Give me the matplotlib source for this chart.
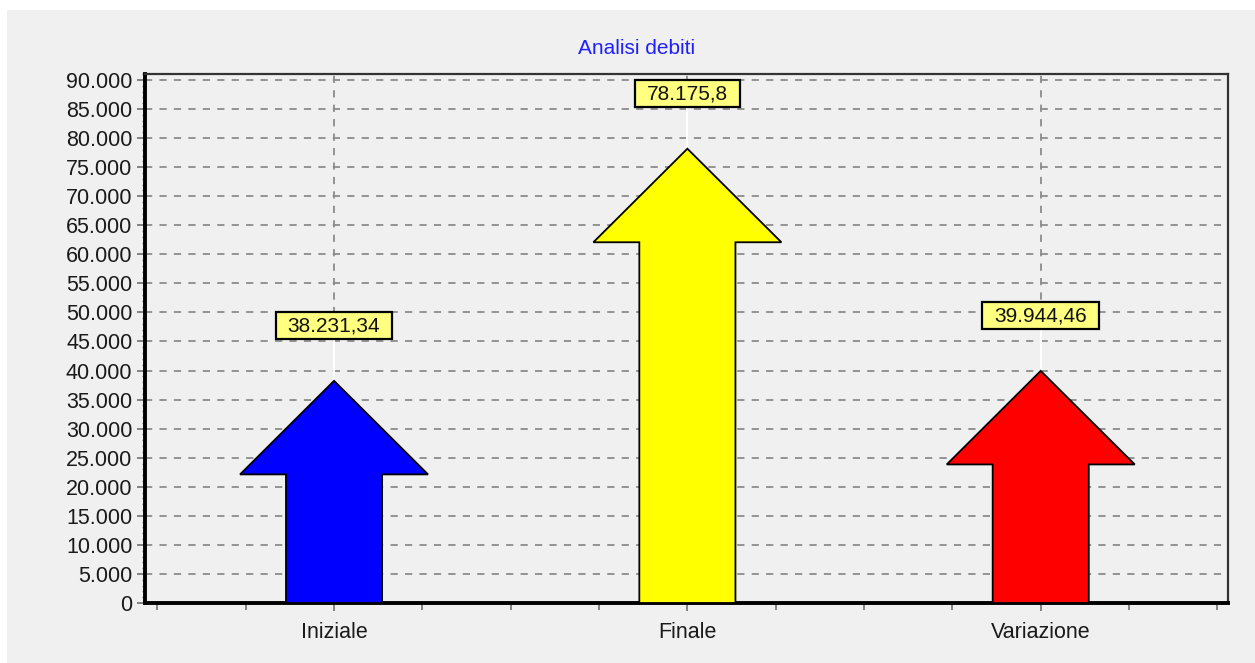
import matplotlib
matplotlib.use('Agg')
import matplotlib.pyplot as plt
import matplotlib.patches as mp
import matplotlib.ticker as mt

categories = ['Iniziale', 'Finale', 'Variazione']
values = [38231.34, 78175.8, 39944.46]
value_labels = ['38.231,34', '78.175,8', '39.944,46']
colors = ['#0000ff', '#ffff00', '#ff0000']
title = 'Analisi debiti'

plt.rcParams['font.family'] = ['Liberation Sans', 'DejaVu Sans']


def dot_thousands(v, pos=None):
    return '{:,.0f}'.format(v).replace(',', '.')


def main():
    W, H = 1255, 663
    fig = plt.figure(figsize=(W / 100, H / 100), dpi=100, facecolor='white')
    # gray panel with white border at top/left
    fig.patches.append(mp.Rectangle((7 / W, 0), 1, 1 - 10 / H, transform=fig.transFigure,
                                    facecolor='#f0f0f0', edgecolor='none', zorder=-10))
    ax = fig.add_axes([145 / W, (H - 603) / H, (1228 - 145) / W, (603 - 74) / H])
    ax.set_facecolor('#f0f0f0')
    ax.set_xlim(-0.535, 2.53)
    ax.set_ylim(0, 91030)

    shaft = 0.136
    head = 0.266
    head_len = 16100
    labels = []
    for i, (v, c) in enumerate(zip(values, colors)):
        b = v - head_len
        pts = [(i - shaft, 0), (i - shaft, b), (i - head, b), (i, v),
               (i + head, b), (i + shaft, b), (i + shaft, 0)]
        ax.add_patch(mp.Polygon(pts, closed=True, facecolor=c, edgecolor='black',
                                linewidth=1.3, zorder=3))
        ly = v + 9450
        ax.plot([i, i], [v, ly], color='white', linewidth=1.5, zorder=2)
        t = ax.text(i, ly, value_labels[i], ha='center', va='center', fontsize=15,
                    color='#111111', zorder=5)
        labels.append((i, ly, t))

    # label boxes: text width plus padding, in pixels
    fig.canvas.draw()
    rend = fig.canvas.get_renderer()
    for i, ly, t in labels:
        w = t.get_window_extent(rend).width + 24
        cx, cy = ax.transData.transform((i, ly))
        ax.add_patch(mp.Rectangle((cx - w / 2, cy - 13.5), w, 27, transform=None,
                                  facecolor='#ffff80', edgecolor='black',
                                  linewidth=1.6, zorder=4))

    ax.set_xticks(range(len(categories)))
    ax.set_xticklabels(categories)
    ax.xaxis.set_minor_locator(mt.MultipleLocator(0.25))
    ax.yaxis.set_major_locator(mt.MultipleLocator(5000))
    ax.yaxis.set_minor_locator(mt.MultipleLocator(1000))
    ax.yaxis.set_major_formatter(mt.FuncFormatter(dot_thousands))
    ax.grid(which='major', color='#8c8c8c', linestyle=(0, (4, 4)), linewidth=1.3, zorder=1)
    ax.set_axisbelow(True)
    ax.tick_params(axis='both', which='major', labelsize=15.5, labelcolor='#1a1a1a',
                   color='#707070', length=6, width=1.2)
    ax.tick_params(axis='y', which='minor', color='#808080', length=2, width=1)
    ax.tick_params(axis='x', which='minor', color='#707070', length=5, width=1.2)
    ax.tick_params(axis='x', which='major', pad=8)
    ax.tick_params(axis='y', which='major', pad=3)
    for s in ['left', 'bottom']:
        ax.spines[s].set_linewidth(2.8)
        ax.spines[s].set_color('black')
    for s in ['top', 'right']:
        ax.spines[s].set_linewidth(1.6)
        ax.spines[s].set_color('#333333')

    fig.text(637 / W, 1 - 48 / H, title, ha='center', va='center', fontsize=15,
             color='#2020ff')
    plt.savefig('out.png', dpi=100, facecolor=fig.get_facecolor())


if __name__ == '__main__':
    main()
